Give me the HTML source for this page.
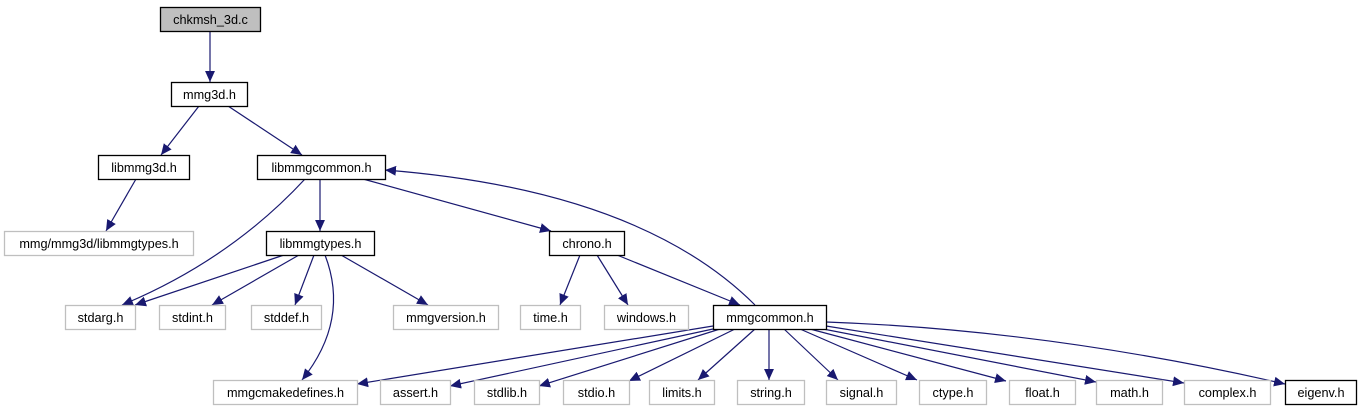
<!DOCTYPE html>
<html><head><meta charset="utf-8"><style>
html,body{margin:0;padding:0;background:#fff;}
svg{display:block;}
text{font-family:"Liberation Sans",Helvetica,sans-serif;font-size:12.7px;fill:#000;}
</style></head><body>
<svg width="1360" height="411" viewBox="0 0 1360 411" xmlns="http://www.w3.org/2000/svg">
<defs>
<marker id="a" viewBox="0 0 10 10" refX="10" refY="5" markerWidth="11" markerHeight="11" markerUnits="userSpaceOnUse" orient="auto">
<path d="M0,0.5 L10,5 L0,9.5 z" fill="#191970"/>
</marker>
</defs>
<g fill="none" stroke="#191970" stroke-width="1.2" marker-end="url(#a)">
<path d="M210,31 L210,82"/>
<path d="M199,106 L161,155"/>
<path d="M228,106 L302,155"/>
<path d="M136,179 L106,231"/>
<path d="M305,179 Q230,260 122,305"/>
<path d="M320,179 L320,231"/>
<path d="M363,179 L551,231"/>
<path d="M755,305 Q640,190 385,170"/>
<path d="M284,255 L135,305"/>
<path d="M299,255 L212,305"/>
<path d="M314,255 L295,305"/>
<path d="M325,255 Q350,320 302,380"/>
<path d="M341,255 L428,305"/>
<path d="M580,255 L560,305"/>
<path d="M597,255 L628,305"/>
<path d="M617,255 L740,305"/>
<path d="M713,326 L357,384"/>
<path d="M713,329 L450,386"/>
<path d="M720,329 L539,386"/>
<path d="M735,329 L629,381"/>
<path d="M755,329 L698,380"/>
<path d="M769,329 L769,380"/>
<path d="M784,329 L838,380"/>
<path d="M800,329 L917,380"/>
<path d="M810,329 L1006,381"/>
<path d="M818,328 L1096,382"/>
<path d="M826,326 L1184,383"/>
<path d="M826,322 Q1050,330 1285,384"/>
</g>
<g stroke-width="1.3">
<rect x="160.5" y="7.5" width="100" height="24" fill="#bfbfbf" stroke="#000"/>
<text x="210.5" y="24" text-anchor="middle">chkmsh_3d.c</text>
<rect x="171.5" y="82.5" width="76" height="24" fill="#fff" stroke="#000"/>
<text x="209.5" y="99" text-anchor="middle">mmg3d.h</text>
<rect x="98.5" y="155.5" width="91" height="24" fill="#fff" stroke="#000"/>
<text x="144" y="172" text-anchor="middle">libmmg3d.h</text>
<rect x="257.5" y="155.5" width="128" height="24" fill="#fff" stroke="#000"/>
<text x="321.5" y="172" text-anchor="middle">libmmgcommon.h</text>
<rect x="4.5" y="231.5" width="189" height="24" fill="#fff" stroke="#bfbfbf"/>
<text x="99" y="248" text-anchor="middle">mmg/mmg3d/libmmgtypes.h</text>
<rect x="266.5" y="231.5" width="108" height="24" fill="#fff" stroke="#000"/>
<text x="320.5" y="248" text-anchor="middle">libmmgtypes.h</text>
<rect x="549.5" y="231.5" width="75" height="24" fill="#fff" stroke="#000"/>
<text x="587" y="248" text-anchor="middle">chrono.h</text>
<rect x="65.5" y="305.5" width="70" height="24" fill="#fff" stroke="#bfbfbf"/>
<text x="100.5" y="322" text-anchor="middle">stdarg.h</text>
<rect x="159.5" y="305.5" width="66" height="24" fill="#fff" stroke="#bfbfbf"/>
<text x="192.5" y="322" text-anchor="middle">stdint.h</text>
<rect x="251.5" y="305.5" width="70" height="24" fill="#fff" stroke="#bfbfbf"/>
<text x="286.5" y="322" text-anchor="middle">stddef.h</text>
<rect x="393.5" y="305.5" width="105" height="24" fill="#fff" stroke="#bfbfbf"/>
<text x="446" y="322" text-anchor="middle">mmgversion.h</text>
<rect x="520.5" y="305.5" width="60" height="24" fill="#fff" stroke="#bfbfbf"/>
<text x="550.5" y="322" text-anchor="middle">time.h</text>
<rect x="604.5" y="305.5" width="84" height="24" fill="#fff" stroke="#bfbfbf"/>
<text x="646.5" y="322" text-anchor="middle">windows.h</text>
<rect x="713.5" y="305.5" width="113" height="24" fill="#fff" stroke="#000"/>
<text x="770" y="322" text-anchor="middle">mmgcommon.h</text>
<rect x="213.5" y="380.5" width="144" height="24" fill="#fff" stroke="#bfbfbf"/>
<text x="285.5" y="397" text-anchor="middle">mmgcmakedefines.h</text>
<rect x="380.5" y="380.5" width="70" height="24" fill="#fff" stroke="#bfbfbf"/>
<text x="415.5" y="397" text-anchor="middle">assert.h</text>
<rect x="474.5" y="380.5" width="65" height="24" fill="#fff" stroke="#bfbfbf"/>
<text x="507" y="397" text-anchor="middle">stdlib.h</text>
<rect x="563.5" y="380.5" width="66" height="24" fill="#fff" stroke="#bfbfbf"/>
<text x="596.5" y="397" text-anchor="middle">stdio.h</text>
<rect x="649.5" y="380.5" width="65" height="24" fill="#fff" stroke="#bfbfbf"/>
<text x="682" y="397" text-anchor="middle">limits.h</text>
<rect x="737.5" y="380.5" width="67" height="24" fill="#fff" stroke="#bfbfbf"/>
<text x="771" y="397" text-anchor="middle">string.h</text>
<rect x="826.5" y="380.5" width="70" height="24" fill="#fff" stroke="#bfbfbf"/>
<text x="861.5" y="397" text-anchor="middle">signal.h</text>
<rect x="919.5" y="380.5" width="67" height="24" fill="#fff" stroke="#bfbfbf"/>
<text x="953" y="397" text-anchor="middle">ctype.h</text>
<rect x="1009.5" y="380.5" width="66" height="24" fill="#fff" stroke="#bfbfbf"/>
<text x="1042.5" y="397" text-anchor="middle">float.h</text>
<rect x="1096.5" y="380.5" width="66" height="24" fill="#fff" stroke="#bfbfbf"/>
<text x="1129.5" y="397" text-anchor="middle">math.h</text>
<rect x="1184.5" y="380.5" width="86" height="24" fill="#fff" stroke="#bfbfbf"/>
<text x="1227.5" y="397" text-anchor="middle">complex.h</text>
<rect x="1285.5" y="380.5" width="71" height="24" fill="#fff" stroke="#000"/>
<text x="1321" y="397" text-anchor="middle">eigenv.h</text>
</g>
</svg>
</body></html>
